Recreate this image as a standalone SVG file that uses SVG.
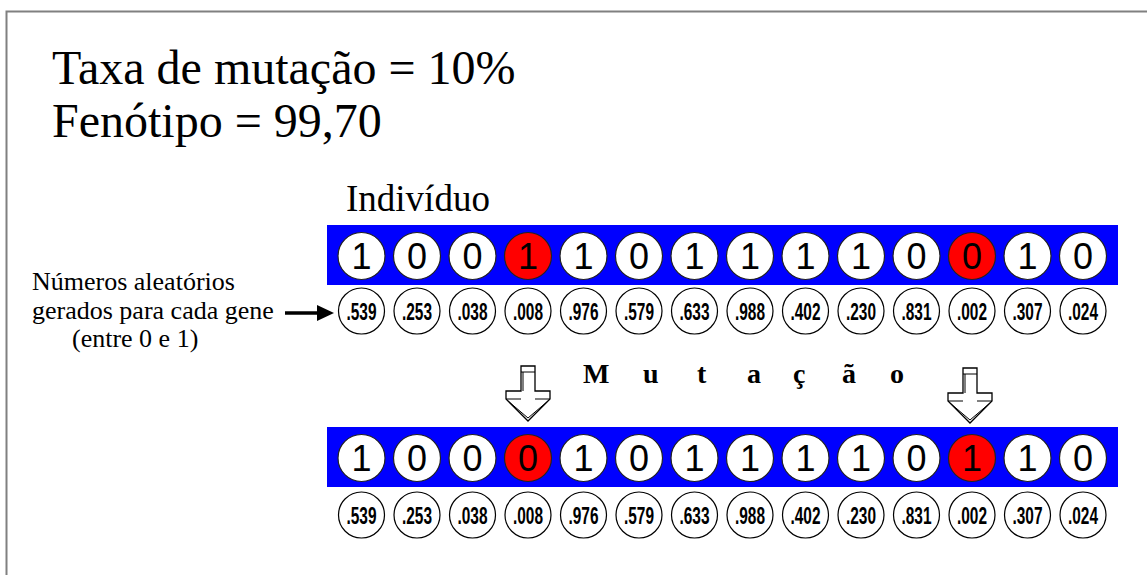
<svg xmlns="http://www.w3.org/2000/svg" width="1147" height="575" viewBox="0 0 1147 575">
<style>
.title{font-size:48px;fill:#000}
.lbl{font-size:26px;fill:#000}
.ind{font-size:37px;fill:#000}
.mut{font-size:28px;font-weight:bold;fill:#000}
.bar{fill:#0000ff}
.gene{fill:#fff;stroke:#222;stroke-width:1.2}
.red{fill:#ff0000}
.gd{font-size:36px;fill:#000;text-anchor:middle}
.rc{fill:#fff;stroke:#000;stroke-width:1.2}
.rn{font-size:24px;font-weight:bold;fill:#000;text-anchor:middle}
.blk{fill:#fff;stroke:#000;stroke-width:1.3;stroke-linejoin:miter}
.blkl{fill:none;stroke:#000;stroke-width:1}
</style>
<defs>
<g id="blockArrow">
<polygon class="blk" points="-7,366 7,366 7,391 22,391 22,399 0,421 -22,399 -22,391 -7,391"/>
<line class="blkl" x1="-7" y1="372" x2="7" y2="372"/>
<line class="blkl" x1="-22" y1="399" x2="-7" y2="399"/>
<line class="blkl" x1="7" y1="399" x2="22" y2="399"/>
<polyline class="blkl" points="-20,401 0,418 20,401"/>
<line class="blkl" x1="-5" y1="372" x2="-5" y2="391"/>
</g>
</defs>
<rect x="6.5" y="11.5" width="1200" height="600" fill="#fff" stroke="#808080" stroke-width="2"/>

<g id="header" font-family="'Liberation Serif', serif">
<text class="title" x="52" y="84">Taxa de mutação = 10%</text>
<text class="title" x="52" y="137">Fenótipo = 99,70</text>
</g>

<g id="individuo-label" font-family="'Liberation Serif', serif"><text class="ind" x="346" y="211">Indivíduo</text></g>

<g id="random-label" font-family="'Liberation Serif', serif">
<text class="lbl" x="32" y="290">Números aleatórios</text>
<text class="lbl" x="32" y="319">gerados para cada gene</text>
<text class="lbl" x="72" y="347">(entre 0 e 1)</text>
</g>

<g id="chromosome-before" font-family="'Liberation Sans', sans-serif">
<rect class="bar" x="327" y="225" width="791" height="60"/>
<g transform="translate(0,256)">
<circle class="gene" cx="361.5" cy="0" r="23.5"/><text class="gd" x="361.5" y="13">1</text>
<circle class="gene" cx="417" cy="0" r="23.5"/><text class="gd" x="417" y="13">0</text>
<circle class="gene" cx="472.5" cy="0" r="23.5"/><text class="gd" x="472.5" y="13">0</text>
<circle class="gene red" cx="528" cy="0" r="23.5"/><text class="gd" x="528" y="13">1</text>
<circle class="gene" cx="583.5" cy="0" r="23.5"/><text class="gd" x="583.5" y="13">1</text>
<circle class="gene" cx="639" cy="0" r="23.5"/><text class="gd" x="639" y="13">0</text>
<circle class="gene" cx="694.5" cy="0" r="23.5"/><text class="gd" x="694.5" y="13">1</text>
<circle class="gene" cx="750" cy="0" r="23.5"/><text class="gd" x="750" y="13">1</text>
<circle class="gene" cx="805.5" cy="0" r="23.5"/><text class="gd" x="805.5" y="13">1</text>
<circle class="gene" cx="861" cy="0" r="23.5"/><text class="gd" x="861" y="13">1</text>
<circle class="gene" cx="916.5" cy="0" r="23.5"/><text class="gd" x="916.5" y="13">0</text>
<circle class="gene red" cx="972" cy="0" r="23.5"/><text class="gd" x="972" y="13">0</text>
<circle class="gene" cx="1027.5" cy="0" r="23.5"/><text class="gd" x="1027.5" y="13">1</text>
<circle class="gene" cx="1083" cy="0" r="23.5"/><text class="gd" x="1083" y="13">0</text>
</g>
</g>

<g id="random-before" transform="translate(0,311)" font-family="'Liberation Sans', sans-serif">
<circle class="rc" cx="361.5" cy="0" r="23"/><text class="rn" x="361.5" y="8.5" textLength="30" lengthAdjust="spacingAndGlyphs">.539</text>
<circle class="rc" cx="417" cy="0" r="23"/><text class="rn" x="417" y="8.5" textLength="30" lengthAdjust="spacingAndGlyphs">.253</text>
<circle class="rc" cx="472.5" cy="0" r="23"/><text class="rn" x="472.5" y="8.5" textLength="30" lengthAdjust="spacingAndGlyphs">.038</text>
<circle class="rc" cx="528" cy="0" r="23"/><text class="rn" x="528" y="8.5" textLength="30" lengthAdjust="spacingAndGlyphs">.008</text>
<circle class="rc" cx="583.5" cy="0" r="23"/><text class="rn" x="583.5" y="8.5" textLength="30" lengthAdjust="spacingAndGlyphs">.976</text>
<circle class="rc" cx="639" cy="0" r="23"/><text class="rn" x="639" y="8.5" textLength="30" lengthAdjust="spacingAndGlyphs">.579</text>
<circle class="rc" cx="694.5" cy="0" r="23"/><text class="rn" x="694.5" y="8.5" textLength="30" lengthAdjust="spacingAndGlyphs">.633</text>
<circle class="rc" cx="750" cy="0" r="23"/><text class="rn" x="750" y="8.5" textLength="30" lengthAdjust="spacingAndGlyphs">.988</text>
<circle class="rc" cx="805.5" cy="0" r="23"/><text class="rn" x="805.5" y="8.5" textLength="30" lengthAdjust="spacingAndGlyphs">.402</text>
<circle class="rc" cx="861" cy="0" r="23"/><text class="rn" x="861" y="8.5" textLength="30" lengthAdjust="spacingAndGlyphs">.230</text>
<circle class="rc" cx="916.5" cy="0" r="23"/><text class="rn" x="916.5" y="8.5" textLength="30" lengthAdjust="spacingAndGlyphs">.831</text>
<circle class="rc" cx="972" cy="0" r="23"/><text class="rn" x="972" y="8.5" textLength="30" lengthAdjust="spacingAndGlyphs">.002</text>
<circle class="rc" cx="1027.5" cy="0" r="23"/><text class="rn" x="1027.5" y="8.5" textLength="30" lengthAdjust="spacingAndGlyphs">.307</text>
<circle class="rc" cx="1083" cy="0" r="23"/><text class="rn" x="1083" y="8.5" textLength="30" lengthAdjust="spacingAndGlyphs">.024</text>
</g>

<g id="mutacao-label" font-family="'Liberation Serif', serif">
<text class="mut" x="583 643 697 747 793 842 890" y="383">Mutação</text>
</g>

<g id="chromosome-after" font-family="'Liberation Sans', sans-serif">
<rect class="bar" x="327" y="427" width="791" height="60"/>
<g transform="translate(0,458)">
<circle class="gene" cx="361.5" cy="0" r="23.5"/><text class="gd" x="361.5" y="13">1</text>
<circle class="gene" cx="417" cy="0" r="23.5"/><text class="gd" x="417" y="13">0</text>
<circle class="gene" cx="472.5" cy="0" r="23.5"/><text class="gd" x="472.5" y="13">0</text>
<circle class="gene red" cx="528" cy="0" r="23.5"/><text class="gd" x="528" y="13">0</text>
<circle class="gene" cx="583.5" cy="0" r="23.5"/><text class="gd" x="583.5" y="13">1</text>
<circle class="gene" cx="639" cy="0" r="23.5"/><text class="gd" x="639" y="13">0</text>
<circle class="gene" cx="694.5" cy="0" r="23.5"/><text class="gd" x="694.5" y="13">1</text>
<circle class="gene" cx="750" cy="0" r="23.5"/><text class="gd" x="750" y="13">1</text>
<circle class="gene" cx="805.5" cy="0" r="23.5"/><text class="gd" x="805.5" y="13">1</text>
<circle class="gene" cx="861" cy="0" r="23.5"/><text class="gd" x="861" y="13">1</text>
<circle class="gene" cx="916.5" cy="0" r="23.5"/><text class="gd" x="916.5" y="13">0</text>
<circle class="gene red" cx="972" cy="0" r="23.5"/><text class="gd" x="972" y="13">1</text>
<circle class="gene" cx="1027.5" cy="0" r="23.5"/><text class="gd" x="1027.5" y="13">1</text>
<circle class="gene" cx="1083" cy="0" r="23.5"/><text class="gd" x="1083" y="13">0</text>
</g>
</g>

<g id="random-after" transform="translate(0,515)" font-family="'Liberation Sans', sans-serif">
<circle class="rc" cx="361.5" cy="0" r="23"/><text class="rn" x="361.5" y="8.5" textLength="30" lengthAdjust="spacingAndGlyphs">.539</text>
<circle class="rc" cx="417" cy="0" r="23"/><text class="rn" x="417" y="8.5" textLength="30" lengthAdjust="spacingAndGlyphs">.253</text>
<circle class="rc" cx="472.5" cy="0" r="23"/><text class="rn" x="472.5" y="8.5" textLength="30" lengthAdjust="spacingAndGlyphs">.038</text>
<circle class="rc" cx="528" cy="0" r="23"/><text class="rn" x="528" y="8.5" textLength="30" lengthAdjust="spacingAndGlyphs">.008</text>
<circle class="rc" cx="583.5" cy="0" r="23"/><text class="rn" x="583.5" y="8.5" textLength="30" lengthAdjust="spacingAndGlyphs">.976</text>
<circle class="rc" cx="639" cy="0" r="23"/><text class="rn" x="639" y="8.5" textLength="30" lengthAdjust="spacingAndGlyphs">.579</text>
<circle class="rc" cx="694.5" cy="0" r="23"/><text class="rn" x="694.5" y="8.5" textLength="30" lengthAdjust="spacingAndGlyphs">.633</text>
<circle class="rc" cx="750" cy="0" r="23"/><text class="rn" x="750" y="8.5" textLength="30" lengthAdjust="spacingAndGlyphs">.988</text>
<circle class="rc" cx="805.5" cy="0" r="23"/><text class="rn" x="805.5" y="8.5" textLength="30" lengthAdjust="spacingAndGlyphs">.402</text>
<circle class="rc" cx="861" cy="0" r="23"/><text class="rn" x="861" y="8.5" textLength="30" lengthAdjust="spacingAndGlyphs">.230</text>
<circle class="rc" cx="916.5" cy="0" r="23"/><text class="rn" x="916.5" y="8.5" textLength="30" lengthAdjust="spacingAndGlyphs">.831</text>
<circle class="rc" cx="972" cy="0" r="23"/><text class="rn" x="972" y="8.5" textLength="30" lengthAdjust="spacingAndGlyphs">.002</text>
<circle class="rc" cx="1027.5" cy="0" r="23"/><text class="rn" x="1027.5" y="8.5" textLength="30" lengthAdjust="spacingAndGlyphs">.307</text>
<circle class="rc" cx="1083" cy="0" r="23"/><text class="rn" x="1083" y="8.5" textLength="30" lengthAdjust="spacingAndGlyphs">.024</text>
</g>

<g id="connectors">
<line x1="285" y1="313" x2="320" y2="313" stroke="#000" stroke-width="3.5"/>
<polygon points="317,305 334,313 317,321" fill="#000"/>
<use href="#blockArrow" transform="translate(528,0)"/>
<use href="#blockArrow" transform="translate(970,2)"/>
</g>
</svg>
